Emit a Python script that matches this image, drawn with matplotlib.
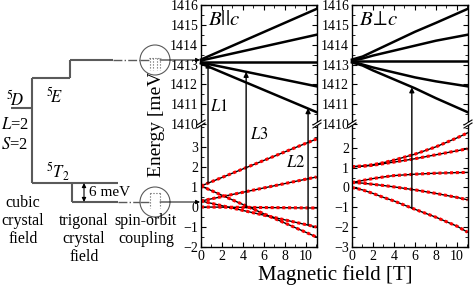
import matplotlib

matplotlib.use("Agg")

import matplotlib.pyplot as plt  # noqa: E402
from matplotlib.patches import Circle, ConnectionPatch, Polygon  # noqa: E402
from matplotlib.ticker import FixedLocator, MultipleLocator  # noqa: E402

plt.rcParams["font.family"] = ["Liberation Serif", "DejaVu Serif"]
plt.rcParams["mathtext.fontset"] = "stix"

# ─── Data (meV vs tesla) ────────────────────────────────────────────────────

# B || c, upper (5E) manifold
B_par_up = [0, 11]
par_up_lines = [
    [1413.25, 1415.8],
    [1413.2, 1414.5],
    [1413.15, 1413.15],
    [1413.1, 1411.9],
    [1413.05, 1410.6],
]
# B || c, lower (5T2) manifold
B_par_lo = [0, 11]
par_lo_lines = [
    [1.05, 3.4],
    [0.3, 1.5],
    [1.05, -1.5],
    [0.3, -1.0],
    [0.0, -0.05],
]

# B ⊥ c, upper manifold
B_perp_up = [0, 1, 2, 4, 6, 8, 11]
perp_up_lines = [
    [1413.25, 1413.4, 1413.65, 1414.15, 1414.65, 1415.1, 1415.8],
    [1413.2, 1413.3, 1413.45, 1413.7, 1413.95, 1414.2, 1414.5],
    [1413.2, 1413.2, 1413.2, 1413.2, 1413.2, 1413.2, 1413.2],
    [1413.15, 1413.0, 1412.85, 1412.6, 1412.35, 1412.15, 1411.9],
    [1413.1, 1412.95, 1412.7, 1412.25, 1411.8, 1411.3, 1410.6],
]
# B ⊥ c, lower manifold
B_perp_lo = [0, 1, 2, 3, 4, 6, 8, 10, 11]
perp_lo_lines = [
    [1.05, 1.08, 1.15, 1.25, 1.38, 1.68, 2.05, 2.5, 2.75],
    [1.05, 1.07, 1.12, 1.2, 1.28, 1.45, 1.65, 1.85, 1.95],
    [0.25, 0.35, 0.45, 0.53, 0.6, 0.67, 0.72, 0.75, 0.76],
    [0.25, 0.22, 0.16, 0.1, 0.03, -0.12, -0.3, -0.5, -0.62],
    [0.0, -0.12, -0.3, -0.5, -0.68, -1.1, -1.5, -1.95, -2.25],
]

# optical transitions: field, lower level, upper level
par_arrow_B = [0.67, 4.3, 10.2]
par_arrow_lo = [1.19, -0.05, -0.9]
par_arrow_hi = [1413.1, 1412.63, 1410.8]
par_arrow_names = ["$L1$", "$L3$", "$L2$"]
perp_arrow_B = [5.7]
perp_arrow_lo = [-1.05]
perp_arrow_hi = [1411.85]

upper_ticks = [1410, 1411, 1412, 1413, 1414, 1415, 1416]
par_lo_ticks = [-2, -1, 0, 1, 2, 3]
perp_lo_ticks = [-3, -2, -1, 0, 1, 2]

# ─── Layout (pixels) ────────────────────────────────────────────────────────

W, H = 474, 290
GRAY = "#5a5a5a"


def box(x0, y0, x1, y1):
    return [x0 / W, 1 - y1 / H, (x1 - x0) / W, (y1 - y0) / H]


fig = plt.figure(figsize=(W / 100, H / 100), dpi=100)

# level scheme drawn in pixel coordinates
diag = fig.add_axes([0, 0, 1, 1])
diag.set_xlim(0, W)
diag.set_ylim(H, 0)
diag.axis("off")

segs = [
    [(11, 108), (32, 108)],
    [(32, 78), (32, 183)],
    [(32, 78), (70, 78)],
    [(70, 78), (70, 60)],
    [(70, 60), (113, 60)],
    [(32, 183), (118, 183)],
    [(72, 183), (72, 202)],
    [(72, 202), (118, 202)],
]
for (x0, y0), (x1, y1) in segs:
    diag.plot([x0, x1], [y0, y1], color=GRAY, lw=1.5, solid_capstyle="butt")
diag.plot([113, 150], [60, 60], color=GRAY, lw=1.0, ls="-.")
diag.plot([118, 150], [202, 202], color=GRAY, lw=1.0, ls="-.")

diag.annotate("", xy=(84, 183), xytext=(84, 202),
              arrowprops=dict(arrowstyle="<|-|>", color="k", lw=0.8,
                              mutation_scale=6, shrinkA=0, shrinkB=0))
diag.text(89, 193, "6 meV", fontsize=11, va="center", ha="left")

diag.text(157, 177, "Energy [meV]", fontsize=14, rotation=90,
          ha="center", va="bottom")

for cy in (60, 202):
    diag.add_patch(Circle((155, cy), 15, fc="white", ec=GRAY, lw=0.8,
                          zorder=3))
    diag.plot([140, 150], [cy, cy], color=GRAY, lw=1.0, ls="-.", zorder=4)
    diag.annotate("", xy=(200, cy), xytext=(160, cy), zorder=4,
                  arrowprops=dict(arrowstyle="-|>", color="k", lw=0.7,
                                  mutation_scale=6, shrinkA=0, shrinkB=0))
for x in (150, 153.5, 157, 160.5):
    diag.plot([x, x], [58, 70], color=GRAY, lw=0.8, ls=":", zorder=4)
diag.plot([149, 161], [58, 58], color=GRAY, lw=0.8, ls=":", zorder=4)
diag.plot([150, 160], [193, 193], color=GRAY, lw=0.8, ls=":", zorder=4)
for x in (150, 160):
    diag.plot([x, x], [193, 208], color=GRAY, lw=0.8, ls=":", zorder=4)

diag.text(6, 106, "$^5\\!D$", fontsize=12, ha="left", va="baseline")
diag.text(1, 125, "$L$=2", fontsize=12, ha="left", va="center")
diag.text(1, 145, "$S$=2", fontsize=12, ha="left", va="center")
diag.text(46, 97, "$^5\\!E$", fontsize=12, ha="left", va="center")
diag.text(46, 172, "$^5T_2$", fontsize=12, ha="left", va="center")
diag.text(23, 195, "cubic\ncrystal\nfield", fontsize=11.5, ha="center",
          va="top", linespacing=1.15)
diag.text(84, 213, "trigonal\ncrystal\nfield", fontsize=11.5, ha="center",
          va="top", linespacing=1.15)
diag.text(146, 213, "spin-orbit\ncoupling", fontsize=11.5, ha="center",
          va="top", linespacing=1.15)

# ─── Zeeman panels ──────────────────────────────────────────────────────────


def style(ax, upper, yticks):
    ax.set_xlim(0, 11.05)
    ax.xaxis.set_major_locator(MultipleLocator(2))
    ax.xaxis.set_minor_locator(MultipleLocator(1))
    ax.yaxis.set_major_locator(FixedLocator(yticks))
    ax.yaxis.set_minor_locator(MultipleLocator(0.5))
    ax.tick_params(which="both", direction="in", left=True, right=True,
                   top=upper, bottom=not upper, labelbottom=not upper,
                   labelsize=10, pad=2)
    ax.tick_params(which="major", length=3.5, width=0.8)
    ax.tick_params(which="minor", length=2, width=0.6)
    ax.spines["bottom" if upper else "top"].set_visible(False)
    for s in ax.spines.values():
        s.set_linewidth(1.0)
    ax.patch.set_alpha(0)


panels = [
    (box(201, 5, 317, 124), box(201, 124, 317, 247), (-2, 4.15),
     par_lo_ticks, B_par_up, par_up_lines, B_par_lo, par_lo_lines,
     "$B||c$", par_arrow_B, par_arrow_lo, par_arrow_hi),
    (box(352, 5, 468, 124), box(352, 124, 468, 247), (-3, 3.2),
     perp_lo_ticks, B_perp_up, perp_up_lines, B_perp_lo, perp_lo_lines,
     "$B\\!\\perp\\!c$", perp_arrow_B, perp_arrow_lo, perp_arrow_hi),
]

for (r_up, r_lo, lo_lim, lo_ticks, bu, up_lines, bl, lo_lines, title,
     ab, alo, ahi) in panels:
    ax_up = fig.add_axes(r_up)
    ax_lo = fig.add_axes(r_lo)
    style(ax_up, True, upper_ticks)
    style(ax_lo, False, lo_ticks)
    ax_up.set_ylim(1410, 1416)
    ax_lo.set_ylim(*lo_lim)
    for ys in up_lines:
        ax_up.plot(bu, ys, color="k", lw=1.8, clip_on=False)
    for ys in lo_lines:
        ax_lo.plot(bl, ys, color="k", lw=1.0)
        ax_lo.plot(bl, ys, color="red", lw=2.2, ls=(0, (1.0, 0.9)))
    ax_up.text(0.06, 0.83, title, transform=ax_up.transAxes, fontsize=15)
    for b, lo, hi in zip(ab, alo, ahi):
        con = ConnectionPatch(xyA=(b, lo), coordsA=ax_lo.transData,
                              xyB=(b, hi), coordsB=ax_up.transData,
                              arrowstyle="-|>", mutation_scale=7,
                              color="k", lw=1.0, shrinkA=0, shrinkB=0)
        fig.add_artist(con)

# transition labels
for (px, py), name in zip([(219, 107), (259, 135), (296, 163)],
                          par_arrow_names):
    fig.text(px / W, 1 - py / H, name, fontsize=12, ha="center",
             va="center")

fig.text(335 / W, 1 - 275 / H, "Magnetic field [T]", fontsize=15,
         ha="center", va="center")

# axis break marks
over = fig.add_axes([0, 0, 1, 1], zorder=10)
over.set_xlim(0, W)
over.set_ylim(H, 0)
over.axis("off")
for x in (201, 317, 352, 468):
    over.add_patch(Polygon([(x - 4, 128), (x + 4, 123), (x + 4, 120),
                            (x - 4, 125)], fc="white", ec="none"))
    over.plot([x - 4, x + 4], [128, 123], color="k", lw=0.8)
    over.plot([x - 4, x + 4], [125, 120], color="k", lw=0.8)

fig.savefig("out.png", dpi=100)
